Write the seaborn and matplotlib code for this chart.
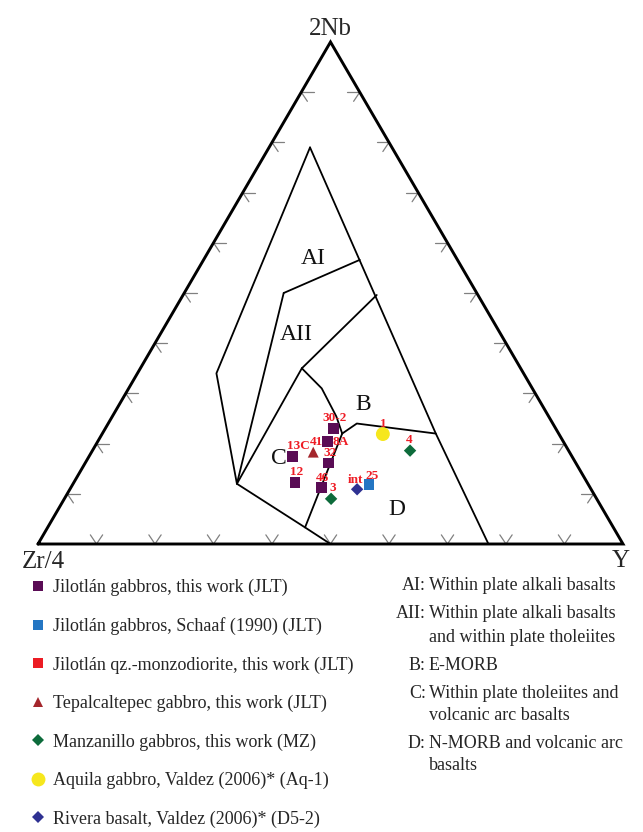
import numpy as np
import pandas as pd
import matplotlib.pyplot as plt
import seaborn as sns
from matplotlib.lines import Line2D

sns.set_theme(style="white")
plt.rcParams['font.family'] = ['Liberation Serif', 'DejaVu Serif']

# ternary compositions in percent: (2Nb, Zr/4, Y)
# field boundaries of the Meschede (1986) diagram
outer_line = [(79, 14, 7), (34, 52.5, 13.5), (12, 60, 28), (3.3, 52.7, 44), (0, 50, 50)]
right_line = [(79, 14, 7), (22, 21, 57), (0, 23, 77)]
ai_aii_line = [(50, 33, 17), (56.6, 16.7, 26.7)]
aii_left_line = [(50, 33, 17), (12, 60, 28)]
aii_b_line = [(35, 37.4, 27.6), (49.6, 17.3, 33.1)]
c_left_line = [(12, 60, 28), (35, 37.4, 27.6)]
c_b_line = [(35, 37.4, 27.6), (31, 36, 33), (25.4, 36.3, 38.3), (22, 37, 41)]
b_d_line = [(22, 37, 41), (24, 33.5, 42.5), (22, 21, 57)]
c_d_line = [(22, 37, 41), (3.3, 52.7, 44)]
field_lines = [outer_line, right_line, ai_aii_line, aii_left_line, aii_b_line,
               c_left_line, c_b_line, b_d_line, c_d_line]

field_names = ["AI", "AII", "B", "C", "D"]
field_label_pos = [(56.9, 24.5, 18.6), (41.8, 34.9, 23.3), (27.7, 30.5, 41.8),
                   (17.1, 50.2, 32.7), (6.8, 35.3, 57.9)]

# samples
sample_ids = ["30-2", "8A", "41", "13C", "32", "12", "46", "3", "int", "25", "1", "4"]
sample_nb = [23.0, 20.4, 18.3, 17.4, 16.1, 12.3, 11.3, 9.0, 10.9, 11.8, 21.9, 18.6]
sample_zr = [38.0, 40.4, 43.8, 47.8, 42.3, 49.9, 45.9, 45.4, 40.0, 37.5, 30.1, 27.1]
sample_y = [39.0, 39.3, 37.9, 34.8, 41.6, 37.8, 42.8, 45.6, 49.1, 50.7, 48.0, 54.3]
sample_group = ["JLT", "JLT", "TEP", "JLT", "JLT", "JLT", "JLT", "MZ", "RIV", "SCH", "AQ", "MZ"]

groups = ["JLT", "SCH", "QZ", "TEP", "MZ", "AQ", "RIV"]
group_labels = ["Jilotlán gabbros, this work (JLT)",
                "Jilotlán gabbros, Schaaf (1990) (JLT)",
                "Jilotlán qz.-monzodiorite, this work (JLT)",
                "Tepalcaltepec gabbro, this work (JLT)",
                "Manzanillo gabbros, this work (MZ)",
                "Aquila gabbro, Valdez (2006)* (Aq-1)",
                "Rivera basalt, Valdez (2006)* (D5-2)"]
group_colors = ["#5a0c55", "#2476c3", "#ec1c24", "#a4262c", "#0d6b3b", "#f6e71d", "#2e3192"]
group_markers = ["s", "s", "s", "^", "D", "o", "D"]
group_sizes = [58, 58, 58, 62, 40, 100, 40]

legend_keys = ["AI:", "AII:", "", "B:", "C:", "", "D:", ""]
legend_desc = ["Within plate alkali basalts", "Within plate alkali basalts",
               "and within plate tholeiites", "E-MORB", "Within plate tholeiites and",
               "volcanic arc basalts", "N-MORB and volcanic arc", "basalts"]
label_offsets = [(1, 7.5), (10, 0), (2.5, 7.5), (4, 7.5), (1, 7.5), (1, 7.5),
                 (1, 7), (1, 8), (-1, 7), (2, 6.5), (0, 7.5), (-0.5, 8)]


def tern(nb, zr, y):
    nb, zr, y = np.asarray(nb, float), np.asarray(zr, float), np.asarray(y, float)
    tot = nb + zr + y
    return (y + nb / 2) / tot, nb / tot


fig = plt.figure(figsize=(6.43, 8.32), dpi=100)
ax = fig.add_axes([38 / 643, 288 / 832, 585 / 643, 502 / 832])
ax.set_xlim(0, 1)
ax.set_ylim(0, 1)
ax.axis("off")

# triangle frame
fx, fy = tern([0, 0, 100, 0], [100, 0, 0, 100], [0, 100, 0, 0])
ax.plot(fx, fy, color="black", lw=2.1, solid_joinstyle="miter", clip_on=False, zorder=3)

# tick chevrons every 10 %
tl = 0.021
c60, s60 = 0.5, np.sqrt(3) / 2
tick_kw = dict(color="#808080", lw=0.9, clip_on=False)
for f in np.arange(10, 100, 10):
    # base
    bx, by = tern(0, 100 - f, f)
    for dx in (-c60, c60):
        ax.plot([bx, bx + dx * tl], [by, by + s60 * tl], **tick_kw)
    # left edge
    lx, ly = tern(f, 100 - f, 0)
    ax.plot([lx, lx + tl], [ly, ly], **tick_kw)
    ax.plot([lx, lx + c60 * tl], [ly, ly - s60 * tl], **tick_kw)
    # right edge
    rx, ry = tern(f, 0, 100 - f)
    ax.plot([rx, rx - tl], [ry, ry], **tick_kw)
    ax.plot([rx, rx - c60 * tl], [ry, ry - s60 * tl], **tick_kw)

# field boundaries
for seg in field_lines:
    nb, zr, y = zip(*seg)
    sx, sy = tern(nb, zr, y)
    ax.plot(sx, sy, color="black", lw=1.3, zorder=2)

for name, pos in zip(field_names, field_label_pos):
    px, py = tern(*pos)
    ax.text(px, py, name, fontsize=17, ha="center", va="center", color="#111111")

# vertex labels
ax.annotate("2Nb", xy=(0.5, 1), xytext=(0, 9.5), textcoords="offset points",
            ha="center", va="center", fontsize=18, annotation_clip=False)
ax.annotate("Zr/4", xy=(0, 0), xytext=(3.6, -13), textcoords="offset points",
            ha="center", va="center", fontsize=18, annotation_clip=False)
ax.annotate("Y", xy=(1, 0), xytext=(-1.7, -12), textcoords="offset points",
            ha="center", va="center", fontsize=18, annotation_clip=False)

# samples
df = pd.DataFrame({"id": sample_ids, "nb": sample_nb, "zr": sample_zr,
                   "y": sample_y, "group": sample_group})
df["cx"], df["cy"] = tern(df.nb, df.zr, df.y)
for g, col, mk, sz in zip(groups, group_colors, group_markers, group_sizes):
    sub = df[df.group == g]
    if len(sub):
        sns.scatterplot(data=sub, x="cx", y="cy", ax=ax, color=col, marker=mk, s=sz,
                        edgecolor="none", zorder=4, legend=False)
for (i, row), off in zip(df.iterrows(), label_offsets):
    ax.annotate(row["id"], xy=(row.cx, row.cy), xytext=off, textcoords="offset points",
                ha="center", va="center", fontsize=9.5, fontweight="bold",
                color="#ee1c25", zorder=5)

# legend of sample groups
handles = [Line2D([], [], linestyle="none", marker=mk, color=col,
                  markersize=np.sqrt(sz), markeredgewidth=0)
           for col, mk, sz in zip(group_colors, group_markers, group_sizes)]
fig.legend(handles, group_labels, loc="upper left", bbox_to_anchor=(31 / 643, 1 - 579 / 832),
           frameon=False, fontsize=13, labelspacing=1.17, handlelength=0.8,
           handletextpad=0.4, borderaxespad=0, borderpad=0)

# key to fields
key_y = [585, 613, 637, 666, 693, 715, 744, 765]
for k, d, yy in zip(legend_keys, legend_desc, key_y):
    if k:
        fig.text(426 / 643, 1 - yy / 832, k, ha="right", va="center", fontsize=13)
    fig.text(429 / 643, 1 - yy / 832, d, ha="left", va="center", fontsize=13)

plt.savefig("out.png", dpi=100)
plt.close()
